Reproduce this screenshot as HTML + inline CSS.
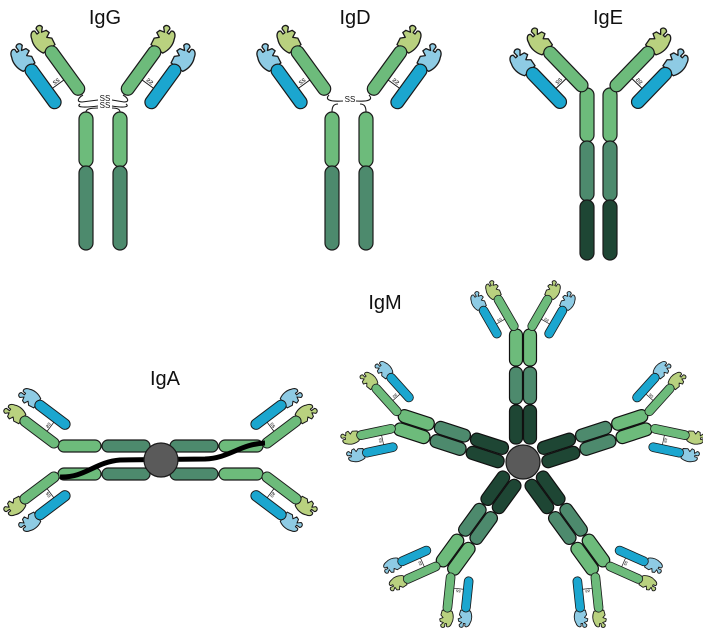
<!DOCTYPE html>
<html><head><meta charset="utf-8"><style>
html,body{margin:0;padding:0;background:#fff;width:703px;height:630px;overflow:hidden}
svg{display:block}
text{font-family:"Liberation Sans",sans-serif}
</style></head><body>
<svg width="703" height="630" viewBox="0 0 703 630" xmlns="http://www.w3.org/2000/svg">
<defs>
<path id="hook" d="M-6,1 C-9,-4 -9,-10 -7,-14 C-6,-18 -3,-20 -1,-18 L-1,-15 L1,-15 L1,-19 C3,-21 6,-20 6,-17 L3,-14 L7,-13 L8,-10 L4,-8 L7,-5 L6,1 Z" stroke="#1a1a1a" stroke-width="1.1" stroke-linejoin="round"/>
<g id="arm">
  <line x1="-20.5" y1="-22" x2="-6" y2="-22" stroke="#1a1a1a" stroke-width="1"/>
  <text x="-13.5" y="-23.5" font-size="7" text-anchor="middle" fill="#111">ss</text>
  <use href="#hook" transform="translate(-27,-54) scale(1.2)" fill="#8ecbe4"/>
  <rect x="-33.5" y="-55" width="13" height="52" rx="6.5" fill="#1ba6cf" stroke="#1a1a1a" stroke-width="1.2"/>
  <use href="#hook" transform="translate(0,-57) scale(1.2)" fill="#b9d17f"/>
  <rect x="-6.5" y="-58" width="13" height="58" rx="6.5" fill="#6dbb7b" stroke="#1a1a1a" stroke-width="1.2"/>
</g>
<g id="munit">
  <rect x="-13.5" y="-57" width="13" height="39" rx="6" fill="#1e4634" stroke="#111" stroke-width="1.2"/>
  <rect x="0.5" y="-57" width="13" height="39" rx="6" fill="#1e4634" stroke="#111" stroke-width="1.2"/>
  <rect x="-13.5" y="-95" width="13" height="37" rx="6" fill="#4d8a6d" stroke="#111" stroke-width="1.2"/>
  <rect x="0.5" y="-95" width="13" height="37" rx="6" fill="#4d8a6d" stroke="#111" stroke-width="1.2"/>
  <rect x="-13.5" y="-133" width="13" height="37" rx="6" fill="#6dbb7b" stroke="#111" stroke-width="1.2"/>
  <rect x="0.5" y="-133" width="13" height="37" rx="6" fill="#6dbb7b" stroke="#111" stroke-width="1.2"/>
  <use href="#arm" transform="translate(-7,-132) rotate(-30) scale(0.68)"/>
  <use href="#arm" transform="translate(7,-132) rotate(30) scale(-0.68,0.68)"/>
</g>
</defs>

<g font-size="20" fill="#111" text-anchor="middle">
<text x="105" y="24">IgG</text>
<text x="355" y="24">IgD</text>
<text x="608" y="24">IgE</text>
<text x="165" y="385">IgA</text>
<text x="385" y="309">IgM</text>
</g>

<!-- IgG -->
<g stroke="#1a1a1a" stroke-width="1.2">
<rect x="79" y="112" width="14" height="55" rx="7" fill="#6dbb7b"/>
<rect x="79" y="166" width="14" height="84" rx="7" fill="#4d8a6d"/>
<rect x="113" y="112" width="14" height="55" rx="7" fill="#6dbb7b"/>
<rect x="113" y="166" width="14" height="84" rx="7" fill="#4d8a6d"/>
</g>
<g fill="none" stroke="#1a1a1a" stroke-width="1.1">
<path d="M83,95 C78,98 76,102 82,102 L98,100 M80,104 C76,107 82,108 98,106 M86,112 C86,109 90,108 98,108"/>
<path d="M123,95 C128,98 130,102 124,102 L112,100 M126,104 C130,107 124,108 112,106 M120,112 C120,109 116,108 112,108"/>
</g>
<text x="105" y="101" font-size="8" text-anchor="middle" fill="#111">SS</text>
<text x="105" y="108" font-size="8" text-anchor="middle" fill="#111">SS</text>
<use href="#arm" transform="translate(82,94) rotate(-36)"/>
<use href="#arm" transform="translate(124,94) rotate(36) scale(-1,1)"/>

<!-- IgD -->
<g stroke="#1a1a1a" stroke-width="1.2">
<rect x="325" y="112" width="14" height="55" rx="7" fill="#6dbb7b"/>
<rect x="325" y="166" width="14" height="84" rx="7" fill="#4d8a6d"/>
<rect x="359" y="112" width="14" height="55" rx="7" fill="#6dbb7b"/>
<rect x="359" y="166" width="14" height="84" rx="7" fill="#4d8a6d"/>
</g>
<g fill="none" stroke="#1a1a1a" stroke-width="1.1">
<path d="M329,95 C325,99 328,102 343,101 M332,112 C332,106 334,104 338,104"/>
<path d="M369,95 C373,99 370,102 356,101 M366,112 C366,106 364,104 360,104"/>
</g>
<text x="350" y="102" font-size="8" text-anchor="middle" fill="#111">SS</text>
<use href="#arm" transform="translate(328,94) rotate(-36)"/>
<use href="#arm" transform="translate(370,94) rotate(36) scale(-1,1)"/>

<!-- IgE -->
<g stroke="#1a1a1a" stroke-width="1.2">
<rect x="580" y="88" width="14" height="54" rx="7" fill="#6dbb7b"/>
<rect x="580" y="141" width="14" height="60" rx="7" fill="#4d8a6d"/>
<rect x="580" y="200" width="14" height="60" rx="7" fill="#1e4634"/>
<rect x="603" y="88" width="14" height="54" rx="7" fill="#6dbb7b"/>
<rect x="603" y="141" width="14" height="60" rx="7" fill="#4d8a6d"/>
<rect x="603" y="200" width="14" height="60" rx="7" fill="#1e4634"/>
</g>
<use href="#arm" transform="translate(586,90) rotate(-44)"/>
<use href="#arm" transform="translate(612,90) rotate(44) scale(-1,1)"/>

<!-- IgA -->
<g stroke="#1a1a1a" stroke-width="1.2">
<rect x="58" y="440" width="43" height="12" rx="6" fill="#6dbb7b"/>
<rect x="102" y="440" width="48" height="12" rx="6" fill="#4d8a6d"/>
<rect x="170" y="440" width="48" height="12" rx="6" fill="#4d8a6d"/>
<rect x="219" y="440" width="44" height="12" rx="6" fill="#6dbb7b"/>
<rect x="58" y="468" width="43" height="12" rx="6" fill="#6dbb7b"/>
<rect x="102" y="468" width="48" height="12" rx="6" fill="#4d8a6d"/>
<rect x="170" y="468" width="48" height="12" rx="6" fill="#4d8a6d"/>
<rect x="219" y="468" width="44" height="12" rx="6" fill="#6dbb7b"/>
</g>
<use href="#arm" transform="translate(58,446) rotate(-53) scale(-0.8,0.8)"/>
<use href="#arm" transform="translate(58,474) rotate(-127) scale(0.8)"/>
<use href="#arm" transform="translate(263,446) rotate(53) scale(0.8)"/>
<use href="#arm" transform="translate(263,474) rotate(127) scale(-0.8,0.8)"/>
<path d="M60,477 C85,478 95,462 120,460 L205,459 C230,458 240,444 265,443" fill="none" stroke="#000" stroke-width="5"/>
<circle cx="161" cy="460" r="17" fill="#5a5a5a" stroke="#1a1a1a" stroke-width="1.2"/>

<!-- IgM -->
<g transform="translate(523,462)">
<use href="#munit"/>
<use href="#munit" transform="rotate(72)"/>
<use href="#munit" transform="rotate(144)"/>
<use href="#munit" transform="rotate(216)"/>
<use href="#munit" transform="rotate(288)"/>
<circle cx="0" cy="0" r="17" fill="#5a5a5a" stroke="#1a1a1a" stroke-width="1.2"/>
</g>
</svg>
</body></html>
